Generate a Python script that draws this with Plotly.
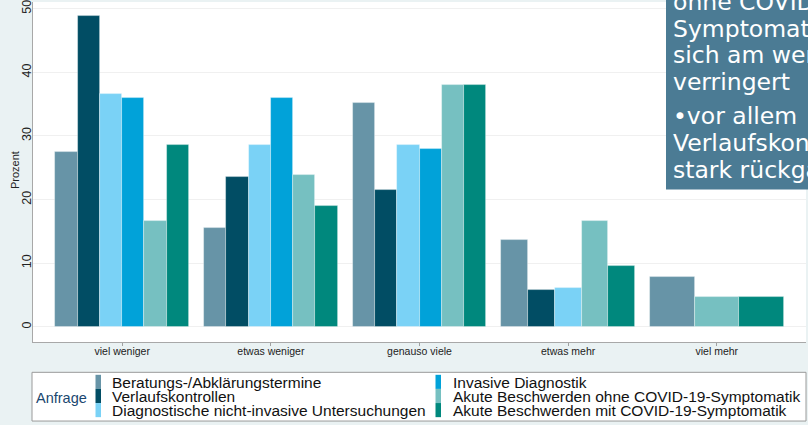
import plotly.graph_objects as go

# ---------------- data ----------------
categories = ["viel weniger", "etwas weniger", "genauso viele", "etwas mehr", "viel mehr"]
series_names = [
    "Beratungs-/Abklärungstermine",
    "Verlaufskontrollen",
    "Diagnostische nicht-invasive Untersuchungen",
    "Invasive Diagnostik",
    "Akute Beschwerden ohne COVID-19-Symptomatik",
    "Akute Beschwerden mit COVID-19-Symptomatik",
]
beratung = [27.4, 15.6, 35.2, 13.6, 7.8]
verlauf = [48.9, 23.5, 21.5, 5.8, None]
diagnostisch = [36.6, 28.5, 28.5, 6.1, None]
invasiv = [35.9, 35.9, 27.9, None, None]
akut_ohne = [16.6, 23.8, 38.0, 16.6, 4.7]
akut_mit = [28.5, 19.0, 38.0, 9.5, 4.7]
series_values = [beratung, verlauf, diagnostisch, invasiv, akut_ohne, akut_mit]
colors = ["#6794a7", "#014d64", "#7ad2f6", "#01a2d9", "#76c0c1", "#00887d"]
y_ticks = [0, 10, 20, 30, 40, 50]

box_par1 = ["Beschwerden", "ohne COVID-19-", "Symptomatik haben", "sich am wenigsten", "verringert"]
box_par2 = ["\u2022vor allem", "Verlaufskontrollen", "stark rückgängig"]

# ---------------- geometry helpers (pixels -> paper) ----------------
W, H = 808, 425
ML, MR, MT, MB = 33, 2, 0, 83
PW, PH = W - ML - MR, H - MT - MB
BG = "#eaf2f3"


def px(x):
    return (x - ML) / PW


def py(y):
    return (H - MB - y) / PH


GROUP_W = 0.9

fig = go.Figure()

# packed bars per group (Stata "over" style: missing bars leave no gap)
present = [[k for k in range(len(series_values)) if series_values[k][i] is not None]
           for i in range(len(categories))]
for k, (name, vals, col) in enumerate(zip(series_names, series_values, colors)):
    xs, ys, ws = [], [], []
    for i, v in enumerate(vals):
        if v is None:
            continue
        n = len(present[i])
        j = present[i].index(k)
        w = GROUP_W / n
        xs.append(i - GROUP_W / 2 + w * (j + 0.5))
        ys.append(v)
        ws.append(w)
    fig.add_trace(go.Bar(
        x=xs, y=ys, width=ws, name=name, showlegend=False,
        marker=dict(color=col, line=dict(color="rgba(255,255,255,0.45)", width=0.8)),
    ))

fig.update_layout(
    width=W, height=H,
    margin=dict(l=ML, r=MR, t=MT, b=MB),
    paper_bgcolor=BG,
    plot_bgcolor="#ffffff",
    bargap=0,
    font=dict(family="Liberation Sans, Arial, sans-serif", color="#222222"),
    xaxis=dict(
        range=[-0.6, 4.6],
        tickmode="array",
        tickvals=list(range(len(categories))),
        ticktext=categories,
        tickfont=dict(size=10.5, color="#222222"),
        ticks="outside", ticklen=3, tickcolor="#a0a0a0",
        ticklabelstandoff=-4,
        showgrid=False, zeroline=False,
        showline=True, linecolor="#a8a8a8", linewidth=1,
    ),
    yaxis=dict(
        range=[-2.39, 51.05],
        tickvals=y_ticks,
        tickangle=-90,
        tickfont=dict(size=12.5, color="#222222"),
        ticks="", ticklabelstandoff=-4, ticklabeloverflow="allow",
        showgrid=True, gridcolor="#f0f0f0", gridwidth=1,
        zeroline=False,
        showline=True, linecolor="#a8a8a8", linewidth=1,
    ),
)

shapes = []
annotations = []

# y-axis title
annotations.append(dict(text="Prozent", xref="paper", yref="paper", x=px(15), y=py(169),
                        xanchor="center", yanchor="middle", textangle=-90, showarrow=False,
                        font=dict(size=11, color="#222222", family="Liberation Sans, Arial")))

# ---------------- custom legend ----------------
shapes.append(dict(type="rect", xref="paper", yref="paper",
                   x0=px(32), x1=px(806), y0=py(421.5), y1=py(372.5),
                   fillcolor="#ffffff", line=dict(color="#9a9a9a", width=1), layer="above"))
annotations.append(dict(text="Anfrage", xref="paper", yref="paper", x=px(34), y=py(398.5),
                        xanchor="left", yanchor="middle", showarrow=False,
                        font=dict(size=14.5, color="#1a476f", family="Liberation Sans, Arial")))
row_tops = [375.0, 389.2, 403.4]
row_h = 14.2
col_marker_x = [95.5, 435.5]
col_text_x = [109.5, 450.5]
for k, (name, col) in enumerate(zip(series_names, colors)):
    c, r = divmod(k, 3)
    top = row_tops[r]
    shapes.append(dict(type="rect", xref="paper", yref="paper",
                       x0=px(col_marker_x[c]), x1=px(col_marker_x[c] + 5.5),
                       y0=py(top + row_h), y1=py(top),
                       fillcolor=col, line=dict(width=0), layer="above"))
    annotations.append(dict(text=name, xref="paper", yref="paper",
                            x=px(col_text_x[c]), y=py(top + row_h / 2 + 0.3),
                            xanchor="left", yanchor="middle", showarrow=False,
                            font=dict(size=15.5, color="#111111", family="Liberation Sans, Arial")))

# ---------------- overlay text box (clipped at the right/top edge) ----------------
shapes.append(dict(type="rect", xref="paper", yref="paper",
                   x0=px(666), x1=px(1100), y0=py(188.5), y1=py(-200),
                   fillcolor="#4b7b94", line=dict(width=0), layer="above"))
fs = 23.5
base1 = [-19.5, 7.8, 35.0, 61.7, 88.8]
base2 = [123.3, 150.0, 176.7]
for lines, bases in ((box_par1, base1), (box_par2, base2)):
    for t, b in zip(lines, bases):
        annotations.append(dict(text=t, xref="paper", yref="paper",
                                x=px(670.5), y=py(b - 0.346 * fs),
                                xanchor="left", yanchor="middle", showarrow=False,
                                font=dict(size=fs, color="#ffffff", family="DejaVu Sans")))

fig.update_layout(shapes=shapes, annotations=annotations)

page_js = (
    "document.documentElement.style.margin='0';"
    "document.body.style.margin='0';"
    "document.body.style.overflow='hidden';"
    "document.body.style.background='" + BG + "';"
)
fig.write_html("out.html", post_script=page_js, config={"displayModeBar": False})
